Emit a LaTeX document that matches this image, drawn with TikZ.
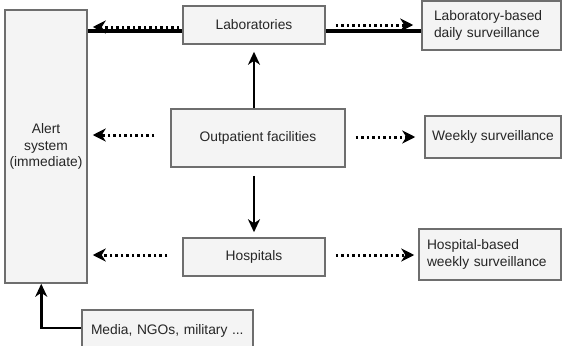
\documentclass[tikz,border=0pt]{standalone}
\usepackage{fontspec}
\setmainfont{Liberation Sans}
\usetikzlibrary{arrows.meta,calc}
\definecolor{boxfill}{HTML}{F4F4F4}
\definecolor{boxline}{HTML}{6E6E6E}
\begin{document}
\begin{tikzpicture}[x=1pt,y=-1pt,
  box/.style={draw=boxline, line width=1.5pt, fill=boxfill, inner sep=0pt,
    font=\fontsize{13.8}{16.5}\selectfont, text=black!85},
  solidarrow/.style={line width=2.6pt, -{Stealth[length=13pt,width=12pt,inset=4pt]}},
  dotarrow/.style={line width=3pt, dash pattern=on 2.5pt off 3pt, -{Stealth[length=13pt,width=13pt,inset=4pt]}},
  thickline/.style={line width=4pt}]
\useasboundingbox (0,0) rectangle (566,346);
\clip (0,0) rectangle (566,346);
\fill[white] (0,0) rectangle (566,346);

\node[box, minimum width=82pt, minimum height=273pt, align=center] (alert) at (46,146.5) {Alert\\system\\(immediate)};
\node[box, minimum width=142pt, minimum height=38pt] (lab) at (254,25) {Laboratories};
\node[box, minimum width=139pt, minimum height=49pt, text width=115pt, align=left] (labd) at (491.5,25.5) {Laboratory-based\\daily surveillance};
\node[box, minimum width=174pt, minimum height=58pt] (out) at (258,138) {Outpatient facilities};
\node[box, minimum width=136pt, minimum height=42pt] (week) at (493,137) {Weekly surveillance};
\node[box, minimum width=142pt, minimum height=38pt] (hosp) at (254,257) {Hospitals};
\node[box, minimum width=142pt, minimum height=51pt, text width=126pt, align=left] (hospw) at (490,254.5) {Hospital-based\\weekly surveillance};
\node[box, minimum width=171pt, minimum height=42pt, text width=153pt, align=left] (media) at (167.5,331) {Media, NGOs, military ...};

% vertical solid arrows
\draw[solidarrow] (out.north -| lab.south) -- ($(lab.south)+(0,7)$);
\draw[solidarrow] ($(out.south -| hosp.north)+(0,8)$) -- ($(hosp.north)+(0,-5)$);

% laboratories row
\draw[thickline] ($(alert.east |- lab.west)+(0,6)$) -- ($(lab.west)+(0,6)$);
\draw[dotarrow] ($(lab.west)+(-3,2)$) -- ($(alert.east |- lab.west)+(5,2)$);
\draw[thickline] ($(lab.east)+(0,6)$) -- ($(labd.west |- lab.east)+(0,6)$);
\draw[dotarrow] ($(lab.east)+(10,0)$) -- ($(labd.west |- lab.east)+(-8,0)$);

% outpatient row
\draw[dotarrow] ($(out.west)+(-16,-3)$) -- ($(alert.east |- out.west)+(5,-3)$);
\draw[dotarrow] ($(out.east)+(10,-1)$) -- ($(week.west |- out.east)+(-9,-1)$);

% hospitals row
\draw[dotarrow] ($(hosp.west)+(-15,-2)$) -- ($(alert.east |- hosp.west)+(5,-2)$);
\draw[dotarrow] ($(hosp.east)+(10,-2)$) -- ($(hospw.west |- hosp.east)+(-4,-2)$);

% media arrow
\draw[solidarrow] ($(media.west)+(0,-3)$) -| ($(alert.south west)+(37,0)$);
\end{tikzpicture}
\end{document}
